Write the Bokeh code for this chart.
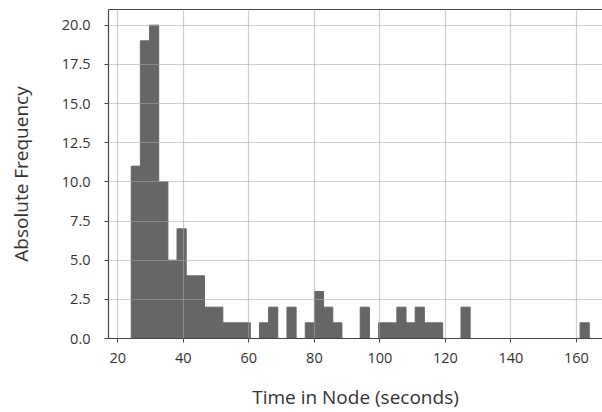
import numpy as np
from bokeh.plotting import figure
from bokeh.models import Range1d, LinearAxis, FixedTicker, ColumnDataSource
from bokeh.embed import file_html
from bokeh.resources import INLINE

# Histogram of time in node: 50 equal-width bins between the min and max observation
bin_min = 24.09
bin_max = 163.9
counts = [11, 19, 20, 10, 5, 7, 4, 4, 2, 2,
          1, 1, 1, 0, 1, 2, 0, 2, 0, 1,
          3, 2, 1, 0, 0, 2, 0, 1, 1, 2,
          1, 2, 1, 1, 0, 0, 2, 0, 0, 0,
          0, 0, 0, 0, 0, 0, 0, 0, 0, 1]
x_ticks = [20, 40, 60, 80, 100, 120, 140, 160]
y_ticks = [0, 2.5, 5, 7.5, 10, 12.5, 15, 17.5, 20]
x_label = "Time in Node (seconds)"
y_label = "Absolute Frequency"

edges = np.linspace(bin_min, bin_max, len(counts) + 1)
src = ColumnDataSource(dict(left=edges[:-1], right=edges[1:], top=counts,
                            bottom=[0] * len(counts)))

FONT = "Open Sans"
p = figure(width=602, height=412, output_backend="svg", toolbar_location=None,
           x_range=Range1d(17.15, 167.95), y_range=Range1d(0, 21),
           min_border_left=108, min_border_right=0, min_border_top=9,
           min_border_bottom=74)
p.outline_line_color = None
p.background_fill_color = "white"
p.border_fill_color = "white"

p.quad(left="left", right="right", top="top", bottom="bottom", source=src,
       fill_color="#666666", line_color="#666666", line_width=1.0)

for g in (p.xgrid, p.ygrid):
    g.grid_line_color = "#a8a8a8"
    g.grid_line_alpha = 0.55
    g.grid_line_width = 1.2
    g.level = "overlay"
p.xgrid.ticker = FixedTicker(ticks=x_ticks)
p.ygrid.ticker = FixedTicker(ticks=y_ticks)

ax = p.xaxis[0]
ax.ticker = FixedTicker(ticks=x_ticks)
ax.axis_label = x_label
ay = p.yaxis[0]
ay.ticker = FixedTicker(ticks=y_ticks)
ay.axis_label = y_label
ay.major_label_overrides = {t: f"{t:.1f}" for t in y_ticks}
ay.major_label_overrides.update({0: "0.0", 5: "5.0", 10: "10.0", 15: "15.0", 20: "20.0"})

for a in (ax, ay):
    a.axis_line_color = "#444444"
    a.axis_line_width = 1.2
    a.major_tick_line_color = "#444444"
    a.major_tick_out = 4
    a.major_tick_in = 0
    a.minor_tick_out = 0
    a.minor_tick_in = 0
    a.major_label_text_font = FONT
    a.major_label_text_font_size = "14.5px"
    a.major_label_text_color = "#333333"
    a.axis_label_text_font = FONT
    a.axis_label_text_font_size = "19px"
    a.axis_label_text_font_style = "normal"
    a.axis_label_text_color = "#333333"

ax.major_label_standoff = 10
ax.axis_label_standoff = 18
ay.major_label_standoff = 14
ay.axis_label_standoff = 25

top = LinearAxis(ticker=FixedTicker(ticks=[]), axis_line_color="#444444",
                 axis_line_width=1.2, major_tick_out=0, major_tick_in=0,
                 minor_tick_out=0, minor_tick_in=0, major_label_standoff=0)
p.add_layout(top, "above")

open("out.html", "w").write(file_html(p, INLINE))
